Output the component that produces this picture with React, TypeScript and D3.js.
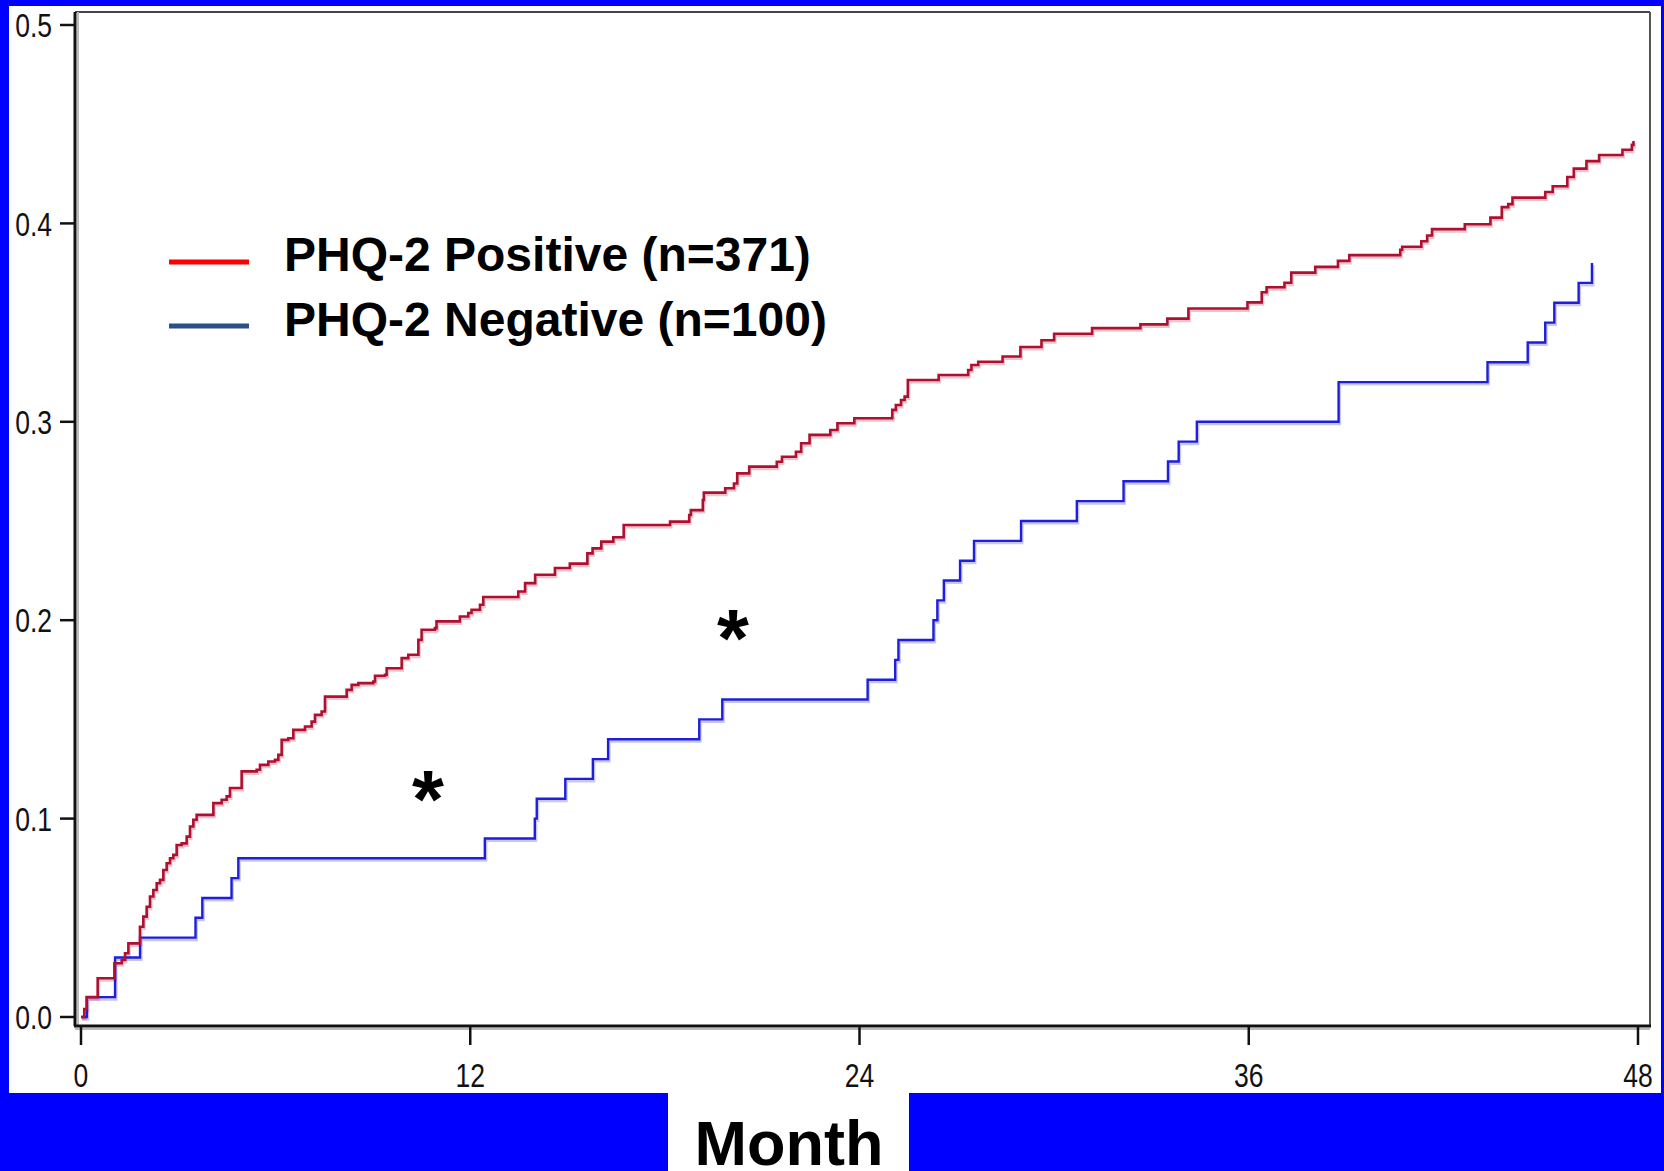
import React from "react";
import * as d3 from "d3";

// cumulative incidence (step after each month)
const positiveMonths = [
  0, 0.1, 0.175, 0.514, 1.03, 1.255, 1.357, 1.46, 1.818, 1.921, 2.024, 2.127, 2.23, 2.333, 2.435, 2.538,
  2.641, 2.744, 2.846, 2.949, 3.103, 3.257, 3.36, 3.463, 3.565, 4.08, 4.336, 4.49, 4.593, 4.952, 5.415,
  5.518, 5.775, 5.98, 6.083, 6.186, 6.391, 6.545, 6.905, 7.11, 7.213, 7.418, 7.521, 8.19, 8.344, 8.55,
  9.012, 9.064, 9.372, 9.423, 9.886, 10.09, 10.4, 10.5, 10.91, 10.96, 11.68, 11.94, 12.04, 12.3, 12.4,
  13.48, 13.69, 14.0, 14.61, 15.07, 15.61, 15.77, 16.04, 16.41, 16.73, 18.16, 18.75, 18.8, 19.17, 19.2,
  19.86, 20.13, 20.23, 20.6, 21.45, 21.61, 22.04, 22.2, 22.46, 23.1, 23.32, 23.84, 25.01, 25.12, 25.28,
  25.39, 25.49, 26.44, 27.35, 27.45, 27.66, 28.41, 28.96, 29.61, 30.0, 31.17, 32.66, 33.49, 34.14, 35.96,
  36.4, 36.55, 37.1, 37.31, 38.05, 38.75, 39.1, 40.67, 40.73, 41.32, 41.5, 41.65, 42.66, 43.45, 43.8,
  44.0, 44.13, 45.14, 45.37, 45.82, 46.02, 46.41, 46.8, 47.52, 47.81, 47.86
];
const positiveRisk = [
  0, 0.004, 0.01, 0.0195, 0.0271, 0.0287, 0.0321, 0.0371, 0.0455, 0.0506, 0.0556, 0.0607, 0.064, 0.0674,
  0.0691, 0.0741, 0.0775, 0.08, 0.0817, 0.0867, 0.0875, 0.0909, 0.096, 0.0994, 0.1019, 0.1078, 0.1095,
  0.1112, 0.1154, 0.1238, 0.1246, 0.1271, 0.1288, 0.1296, 0.1321, 0.1397, 0.1405, 0.1447, 0.1464, 0.1489,
  0.1523, 0.154, 0.1615, 0.1649, 0.1674, 0.1683, 0.1691, 0.172, 0.1725, 0.1758, 0.1809, 0.1826, 0.1901,
  0.1952, 0.196, 0.1994, 0.2019, 0.2036, 0.2053, 0.2078, 0.2117, 0.2145, 0.2187, 0.2229, 0.2263, 0.2285,
  0.2337, 0.2362, 0.2396, 0.2418, 0.248, 0.2497, 0.253, 0.2555, 0.2606, 0.2643, 0.2665, 0.2689, 0.274,
  0.2774, 0.2799, 0.2824, 0.2849, 0.2892, 0.2934, 0.2959, 0.2993, 0.3018, 0.306, 0.3085, 0.311, 0.3127,
  0.3211, 0.3236, 0.3261, 0.3286, 0.3303, 0.3329, 0.3377, 0.3411, 0.3444, 0.3472, 0.3491, 0.352, 0.3571,
  0.3602, 0.3653, 0.3678, 0.3701, 0.3752, 0.3781, 0.3811, 0.384, 0.3867, 0.3882, 0.391, 0.3939, 0.3971,
  0.3996, 0.4029, 0.4082, 0.4097, 0.413, 0.4158, 0.4187, 0.4234, 0.4276, 0.4314, 0.4345, 0.4371, 0.4396,
  0.4415
];

const negativeMonths = [
  0, 0.18, 1.05, 1.82, 3.53, 3.74, 4.64, 4.85, 12.45, 13.99, 14.05, 14.93, 15.78, 16.25, 19.06, 19.77,
  24.25, 25.1, 25.2, 26.28, 26.4, 26.6, 27.1, 27.53, 28.98, 30.7, 32.14, 33.51, 33.84, 34.4, 38.77,
  43.36, 44.6, 45.14, 45.42, 46.17, 46.58
];
const negativeRisk = [
  0, 0.01, 0.03, 0.04, 0.05, 0.06, 0.07, 0.08, 0.09, 0.1, 0.11, 0.12, 0.13, 0.14, 0.15, 0.16, 0.17, 0.18,
  0.19, 0.2, 0.21, 0.22, 0.23, 0.24, 0.25, 0.26, 0.27, 0.28, 0.29, 0.3, 0.32, 0.33, 0.34, 0.35, 0.36,
  0.37, 0.38
];

const monthTicks = [0, 12, 24, 36, 48];
const riskTicks = [0, 0.1, 0.2, 0.3, 0.4, 0.5];
const legendLabels = ["PHQ-2 Positive (n=371)", "PHQ-2 Negative (n=100)"];
const markerLabel = "*";
const xTitle = "Month";

const W = 1664;
const H = 1171;
const frame = { left: 75, top: 12, right: 1650, bottom: 1026 };

const RED = "#B01030";
const BLUE = "#1E1EDC";

export default function App() {
  const x = d3.scaleLinear().domain([0, 48]).range([81, 1638]);
  const y = d3.scaleLinear().domain([0, 0.5]).range([1017, 25]);

  const step = d3
    .line<[number, number]>()
    .x((d) => x(d[0]))
    .y((d) => y(d[1]))
    .curve(d3.curveStepAfter);

  const posPath = step(positiveMonths.map((m, i) => [m, positiveRisk[i]]));
  const negPath = step(negativeMonths.map((m, i) => [m, negativeRisk[i]]));

  const tickFont = "'Liberation Sans', Arial, sans-serif";
  const boldFont = "'Liberation Sans', Arial, Helvetica, sans-serif";

  return (
    <svg
      width={W}
      height={H}
      style={{ position: "absolute", left: 0, top: 0, display: "block" }}
    >
      <defs>
        <filter id="soft" x="-20%" y="-200%" width="140%" height="500%">
          <feGaussianBlur stdDeviation="2" />
        </filter>
      </defs>

      {/* blue slide background and white panel */}
      <rect x={0} y={0} width={W} height={H} fill="#0000FF" />
      <rect x={9} y={6} width={1652} height={1087} fill="#fff" />
      <rect x={668} y={1093} width={241} height={H - 1093} fill="#fff" />

      {/* frame */}
      <line x1={frame.left} y1={frame.top} x2={frame.right} y2={frame.top} stroke="#444" strokeWidth={2} />
      <line x1={frame.right} y1={frame.top} x2={frame.right} y2={frame.bottom} stroke="#555" strokeWidth={2} />
      <line x1={frame.left + 3} y1={frame.top} x2={frame.left + 3} y2={frame.bottom} stroke="#bbb" strokeWidth={2} />
      <line x1={frame.left} y1={frame.bottom + 3} x2={frame.right} y2={frame.bottom + 3} stroke="#bbb" strokeWidth={2} />
      <line x1={frame.left} y1={frame.top} x2={frame.left} y2={frame.bottom} stroke="#111" strokeWidth={3} />
      <line x1={frame.left - 1} y1={frame.bottom} x2={frame.right + 1} y2={frame.bottom} stroke="#111" strokeWidth={3} />

      {/* y axis */}
      {riskTicks.map((t) => (
        <g key={`y${t}`}>
          <line x1={60} x2={frame.left} y1={y(t)} y2={y(t)} stroke="#111" strokeWidth={2.5} />
          <text
            transform={`translate(52,${y(t)}) scale(0.78,1)`}
            dy="0.36em"
            textAnchor="end"
            fontFamily={tickFont}
            fontSize={34}
            fill="#111"
          >
            {t.toFixed(1)}
          </text>
        </g>
      ))}

      {/* x axis */}
      {monthTicks.map((t) => (
        <g key={`x${t}`}>
          <line x1={x(t)} x2={x(t)} y1={frame.bottom} y2={1045} stroke="#111" strokeWidth={2.5} />
          <text
            transform={`translate(${x(t)},1087) scale(0.78,1)`}
            textAnchor="middle"
            fontFamily={tickFont}
            fontSize={34}
            fill="#111"
          >
            {t}
          </text>
        </g>
      ))}

      {/* curves with their faint halo */}
      <path d={negPath ?? ""} transform="translate(1,2)" fill="none" stroke={BLUE} strokeOpacity={0.25} strokeWidth={3} />
      <path d={posPath ?? ""} transform="translate(1,2)" fill="none" stroke={RED} strokeOpacity={0.25} strokeWidth={3} />
      <path d={negPath ?? ""} fill="none" stroke={BLUE} strokeWidth={2.4} />
      <path d={posPath ?? ""} fill="none" stroke={RED} strokeWidth={2.6} />

      {/* legend */}
      {legendLabels.map((label, i) => {
        const ly = 262 + i * 64;
        const c = i === 0 ? "#FF0000" : "#2B4F86";
        return (
          <g key={label}>
            <line x1={169} x2={249} y1={ly + 4} y2={ly + 4} stroke="#888" strokeWidth={5} opacity={0.6} filter="url(#soft)" />
            <line x1={169} x2={249} y1={ly} y2={ly} stroke={c} strokeWidth={5} />
            <text x={284} y={ly + 9 + i * 1} fontFamily={boldFont} fontWeight="bold" fontSize={48} fill="#000">
              {label}
            </text>
          </g>
        );
      })}

      {/* significance markers */}
      <text x={428} y={827} textAnchor="middle" fontFamily={boldFont} fontWeight="bold" fontSize={82} fill="#000">
        {markerLabel}
      </text>
      <text x={733} y={666} textAnchor="middle" fontFamily={boldFont} fontWeight="bold" fontSize={82} fill="#000">
        {markerLabel}
      </text>

      {/* x title */}
      <text x={789} y={1165} textAnchor="middle" fontFamily={boldFont} fontWeight="bold" fontSize={63} fill="#000">
        {xTitle}
      </text>
    </svg>
  );
}
